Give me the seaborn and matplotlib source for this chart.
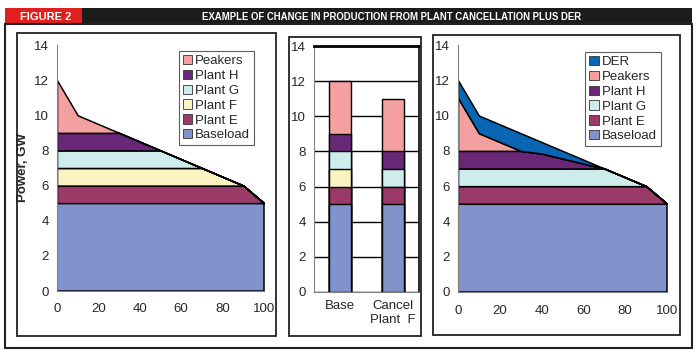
import matplotlib
matplotlib.use("Agg")
import matplotlib.pyplot as plt
from matplotlib.patches import Rectangle, Patch
import seaborn as sns
import numpy as np

# load duration curve, percent of hours
pct = [0, 10, 30, 50, 70, 90, 100]
baseload = [5, 5, 5, 5, 5, 5, 5]
plant_e = [1, 1, 1, 1, 1, 1, 0]
plant_f = [1, 1, 1, 1, 1, 0, 0]
plant_g = [1, 1, 1, 1, 0, 0, 0]
plant_h = [1, 1, 1, 0, 0, 0, 0]
peakers = [3, 1, 0, 0, 0, 0, 0]

# with DER, Plant F cancelled
pct_der = [0, 10, 30, 40, 70, 90, 100]
der_baseload = [5, 5, 5, 5, 5, 5, 5]
der_plant_e = [1, 1, 1, 1, 1, 1, 0]
der_plant_g = [1, 1, 1, 1, 1, 0, 0]
der_plant_h = [1, 1, 1, 0.85, 0, 0, 0]
der_peakers = [3, 1, 0, 0, 0, 0, 0]
der_der = [1, 1, 1, 0.65, 0, 0, 0]

# middle stacked bars
bar_cats = ["Base", "Cancel\nPlant  F"]
bar_layers = ["Baseload", "Plant E", "Plant F", "Plant G", "Plant H", "Peakers"]
bar_base = [5, 1, 1, 1, 1, 3]
bar_cancel = [5, 1, 0, 1, 1, 3]

colors = {
    "Baseload": "#8292ca",
    "Plant E": "#993a69",
    "Plant F": "#fbf3c0",
    "Plant G": "#cdeceb",
    "Plant H": "#682777",
    "Peakers": "#f4a0a0",
    "DER": "#0a66b4",
}

sns.set_theme(style="white")
plt.rcParams["font.family"] = ["Liberation Sans", "DejaVu Sans"]

W, H = 700, 352
fig = plt.figure(figsize=(7, 3.52), dpi=100)
fig.patch.set_facecolor("white")


def fig_rect(x0, y0, x1, y1, **kw):
    # pixel box (top-left origin) -> figure rectangle
    fig.add_artist(Rectangle((x0 / W, 1 - y1 / H), (x1 - x0) / W, (y1 - y0) / H,
                             transform=fig.transFigure, **kw))


def axes_px(x0, y0, x1, y1):
    return fig.add_axes([x0 / W, 1 - y1 / H, (x1 - x0) / W, (y1 - y0) / H])


# header band and frames
fig_rect(5, 8, 82, 24, facecolor="#e0201e", edgecolor="none")
fig_rect(82, 8, 692, 24, facecolor="#1c1c1c", edgecolor="none")
fig_rect(5, 24, 692, 348, facecolor="none", edgecolor="#222222", lw=1.5)
fig_rect(17, 33, 276, 336, facecolor="none", edgecolor="#222222", lw=1.3)
fig_rect(289, 37, 421, 336, facecolor="none", edgecolor="#222222", lw=1.3)
fig_rect(433, 35, 680, 335, facecolor="none", edgecolor="#222222", lw=1.3)

fig.text(20 / W, 1 - 16.5 / H, "FIGURE 2", color="white", fontsize=8,
         fontweight="bold", va="center", ha="left")
fig.text(392 / W, 1 - 16.5 / H,
         "EXAMPLE OF CHANGE IN PRODUCTION FROM PLANT CANCELLATION PLUS DER",
         color="white", fontsize=6.9, fontweight="bold", va="center", ha="center")

tick_fs = 9.5
grey = "#808080"


def style_area_axes(ax):
    ax.set_xlim(0, 100)
    ax.set_ylim(0, 14)
    ax.set_facecolor("white")
    for s in ["top", "right"]:
        ax.spines[s].set_visible(False)
    for s in ["left", "bottom"]:
        ax.spines[s].set_color(grey)
        ax.spines[s].set_linewidth(0.8)
    xt = list(range(0, 101, 10))
    ax.set_xticks(xt)
    ax.set_xticklabels([str(v) if v % 20 == 0 else "" for v in xt])
    ax.set_yticks(range(0, 15, 2))
    ax.tick_params(axis="both", direction="out", length=3, width=0.8,
                   color=grey, labelsize=tick_fs, pad=3)
    ax.tick_params(axis="x", pad=6)


def area_legend(ax, names, anchor):
    handles = [Patch(facecolor=colors[n], edgecolor="#333333", lw=0.6, label=n)
               for n in names]
    leg = ax.legend(handles=handles, loc="upper right", bbox_to_anchor=anchor,
                    fontsize=9.5, frameon=True, fancybox=False,
                    handlelength=0.7, handleheight=0.7, handletextpad=0.25,
                    labelspacing=0.2, borderpad=0.3, borderaxespad=0)
    leg.get_frame().set_edgecolor("#333333")
    leg.get_frame().set_linewidth(0.8)


# left: base case
ax1 = axes_px(57, 45, 264, 291)
names1 = ["Baseload", "Plant E", "Plant F", "Plant G", "Plant H", "Peakers"]
ax1.stackplot(pct, baseload, plant_e, plant_f, plant_g, plant_h, peakers,
              colors=[colors[n] for n in names1], edgecolor="black", linewidth=1.1)
style_area_axes(ax1)
ax1.set_ylabel("Power, GW", fontsize=9.5, fontweight="bold")
ax1.yaxis.set_label_coords(-0.135, 0.5)
area_legend(ax1, names1[::-1], (0.952, 0.976))

# middle: stacked bars
ax2 = axes_px(314, 46, 419, 292)
base_cum = np.cumsum(bar_base)
cancel_cum = np.cumsum(bar_cancel)
for i in range(len(bar_layers) - 1, -1, -1):
    sns.barplot(x=bar_cats, y=[base_cum[i], cancel_cum[i]],
                color=colors[bar_layers[i]], edgecolor="black", linewidth=1.0,
                width=0.42, saturation=1, ax=ax2, zorder=2)
ax2.set_ylim(0, 14)
ax2.set_xlim(-0.5, 1.5)
ax2.set_yticks(range(0, 15, 2))
ax2.yaxis.grid(True, color="black", linewidth=1.0)
ax2.set_axisbelow(True)
ax2.set_xlabel("")
ax2.set_ylabel("")
ax2.spines["top"].set_color("black")
ax2.spines["top"].set_linewidth(2.0)
ax2.spines["right"].set_color("black")
ax2.spines["right"].set_linewidth(1.2)
ax2.spines["left"].set_color(grey)
ax2.spines["left"].set_linewidth(0.8)
ax2.spines["bottom"].set_color(grey)
ax2.spines["bottom"].set_linewidth(0.8)
ax2.set_xticks([0, 1])
ax2.set_xticklabels(bar_cats)
ax2.set_xticks([0.5], minor=True)
ax2.tick_params(axis="x", which="major", length=0, labelsize=tick_fs, pad=6)
ax2.tick_params(axis="x", which="minor", direction="out", length=3, color=grey)
ax2.tick_params(axis="y", direction="out", length=3, width=0.8, color=grey,
                labelsize=tick_fs, pad=3)

# right: with DER
ax3 = axes_px(458, 45, 667, 292)
names3 = ["Baseload", "Plant E", "Plant G", "Plant H", "Peakers", "DER"]
ax3.stackplot(pct_der, der_baseload, der_plant_e, der_plant_g, der_plant_h,
              der_peakers, der_der,
              colors=[colors[n] for n in names3], edgecolor="black", linewidth=1.1)
style_area_axes(ax3)
area_legend(ax3, names3[::-1], (0.971, 0.972))

fig.savefig("out.png", dpi=100, facecolor="white")
